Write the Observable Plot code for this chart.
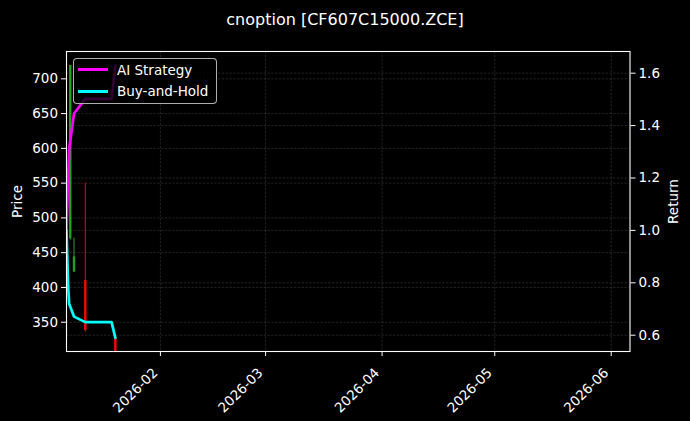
<!DOCTYPE html>
<html><head><meta charset="utf-8">
<script src="https://cdn.jsdelivr.net/npm/d3@7"></script>
<script src="https://cdn.jsdelivr.net/npm/@observablehq/plot@0.6"></script>
<style>
body{margin:0;background:#000;}
#wrap{position:relative;width:690px;height:421px;background:#000;font-family:"DejaVu Sans",sans-serif;color:#fff;overflow:hidden;}
#title{height:36px;box-sizing:border-box;padding-top:11.5px;text-align:center;font-size:16px;line-height:16px;white-space:nowrap;}
#legend{position:absolute;left:73px;top:58px;width:144px;height:46px;box-sizing:border-box;background:rgba(0,0,0,0.8);border:1px solid rgba(204,204,204,0.85);border-radius:4px;}
.sw{position:absolute;left:4px;width:30px;height:3px;}
.lt{position:absolute;left:43px;font-size:13.5px;line-height:20px;white-space:nowrap;}
</style></head>
<body>
<div id="wrap">
  <div id="title">cnoption [CF607C15000.ZCE]</div>
  <div id="chart"></div>
  <div id="legend">
    <div class="sw" id="sw0" style="top:9px"></div><div class="lt" id="lt0" style="top:0.5px"></div>
    <div class="sw" id="sw1" style="top:31px"></div><div class="lt" id="lt1" style="top:22px"></div>
  </div>
</div>
<script>
// ---- data ----
const candleDates = ["2026-01-08", "2026-01-09", "2026-01-12", "2026-01-20"];
const opens  = [470, 422, 410, 328];
const highs  = [719, 471, 550, 328];
const lows   = [468, 422, 336, 300];
const closes = [719, 444, 338, 300];

const retDates = ["2026-01-07T00:00", "2026-01-07T10:00", "2026-01-07T17:00", "2026-01-09T00:00", "2026-01-12T00:00", "2026-01-19T00:00", "2026-01-20T00:00"];
const aiReturn = [1.0, 1.19, 1.31, 1.446, 1.502, 1.502, 1.629];
const bhReturn = [1.0, 0.79, 0.72, 0.671, 0.65, 0.65, 0.59];

const seriesNames = ["AI Strategy", "Buy-and-Hold"];
const seriesColors = ["#ff00ff", "#00ffff"];
const upColor = "#22a022", downColor = "#ff0000";

const monthTicks = ["2026-02-01", "2026-03-01", "2026-04-01", "2026-05-01", "2026-06-01"];
const priceTicks = [350, 400, 450, 500, 550, 600, 650, 700];
const returnTicks = [0.6, 0.8, 1.0, 1.2, 1.4, 1.6];

// ---- scales / helpers ----
const parse = s => new Date((s.length === 10 ? s + "T00:00" : s) + ":00Z");
const xDomain = [parse("2026-01-07"), parse("2026-06-06")];
const pLo = 307.9, pHi = 739.3;
const rLo = 0.5378, rHi = 1.6828;
const toPrice = r => pLo + (r - rLo) / (rHi - rLo) * (pHi - pLo);

const candles = candleDates.map((d, i) => ({date: parse(d), open: opens[i], high: highs[i], low: lows[i], close: closes[i]}));
const rets = retDates.map((d, i) => ({date: parse(d), ai: aiReturn[i], bh: bhReturn[i]}));
const mTicks = monthTicks.map(parse);
const rTicksP = returnTicks.map(toPrice);
const cColor = d => d.close >= d.open ? upColor : downColor;

const gridStyle = {stroke: "#8a8a8a", strokeOpacity: 0.42, strokeWidth: 0.6, strokeDasharray: "2.4,1.4"};

const chart = Plot.plot({
  width: 690,
  height: 385,
  marginTop: 15,
  marginBottom: 70,
  marginLeft: 66,
  marginRight: 60.5,
  style: {background: "#000", color: "#fff", fontFamily: "DejaVu Sans, sans-serif", fontSize: "13.5px"},
  x: {type: "utc", domain: xDomain},
  y: {domain: [pLo, pHi]},
  marks: [
    Plot.gridX(mTicks, gridStyle),
    Plot.gridY(priceTicks, gridStyle),
    Plot.gridY(rTicksP, gridStyle),
    Plot.ruleX(candles, {x: "date", y1: "low", y2: "high", stroke: cColor, strokeWidth: 1, clip: true}),
    Plot.ruleX(candles, {x: "date", y1: "open", y2: "close", stroke: cColor, strokeWidth: 2.4, clip: true}),
    Plot.line(rets, {x: "date", y: d => toPrice(d.ai), stroke: seriesColors[0], strokeWidth: 2.7, clip: true, strokeLinejoin: "round"}),
    Plot.line(rets, {x: "date", y: d => toPrice(d.bh), stroke: seriesColors[1], strokeWidth: 2.7, clip: true, strokeLinejoin: "round"}),
    Plot.axisX(mTicks, {tickFormat: d3.utcFormat("%Y-%m"), tickRotate: -45, tickSize: 5, tickPadding: 4, label: null, fontSize: 13.5, text: null}),
    Plot.axisX(mTicks, {tickFormat: d3.utcFormat("%Y-%m"), tickRotate: -45, tickSize: 0, tickPadding: 9, label: null, fontSize: 13.5, dx: -5, dy: 10}),
    Plot.axisY(priceTicks, {anchor: "left", tickSize: 5, tickPadding: 3.5, label: null, fontSize: 13.5}),
    Plot.axisY(rTicksP, {anchor: "right", tickSize: 5, tickPadding: 3.5, label: null, fontSize: 13.5, tickFormat: (d, i) => d3.format(".1f")(returnTicks[i])}),
    Plot.text(["Price"], {frameAnchor: "left", dx: -49, rotate: -90, textAnchor: "middle", lineAnchor: "middle", fill: "#fff", fontSize: 13.5}),
    Plot.text(["Return"], {frameAnchor: "right", dx: 43.5, rotate: -90, textAnchor: "middle", lineAnchor: "middle", fill: "#fff", fontSize: 13.5}),
    Plot.frame({stroke: "#fff", strokeWidth: 1.1})
  ]
});
document.getElementById("chart").appendChild(chart);

["sw0", "sw1"].forEach((id, i) => document.getElementById(id).style.background = seriesColors[i]);
["lt0", "lt1"].forEach((id, i) => document.getElementById(id).textContent = seriesNames[i]);
</script>
</body></html>
